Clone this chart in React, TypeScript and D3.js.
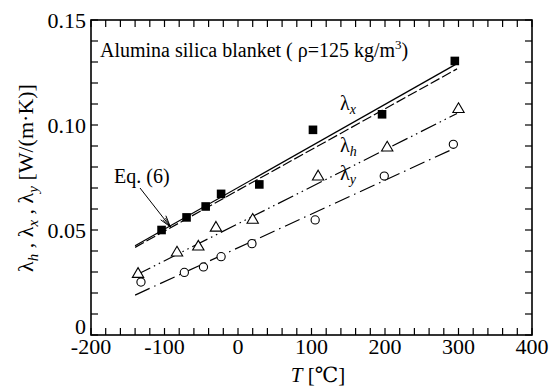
import React from "react";
import * as d3 from "d3";

const W = 558;
const H = 389;

const xTicks = [-200, -100, 0, 100, 200, 300, 400];
const yTicks = [0, 0.05, 0.1, 0.15];
const yTickLabels = ["0", "0.05", "0.10", "0.15"];

const lamXT = [-104, -70, -44, -23, 29, 102, 196, 295];
const lamXV = [0.050, 0.056, 0.0612, 0.0672, 0.0717, 0.0977, 0.1051, 0.1305];

const lamHT = [-136, -83, -54, -30, 20, 109, 203, 300];
const lamHV = [0.0295, 0.0397, 0.0425, 0.0515, 0.0553, 0.0759, 0.0897, 0.108];

const lamYT = [-132, -73, -47, -23, 19, 105, 199, 293];
const lamYV = [0.0252, 0.0298, 0.0324, 0.0373, 0.0435, 0.0548, 0.0757, 0.0908];

const fitXT = [-140, 298];
const fitXV = [0.0425, 0.1292];
const eq6T = [-140, 298];
const eq6V = [0.0422, 0.1272];
const fitHT = [-140, 298];
const fitHV = [0.0283, 0.1055];
const fitYT = [-140, 292];
const fitYV = [0.019, 0.0885];

const FONT = "Liberation Serif, DejaVu Serif, Times New Roman, serif";

export default function App() {
  const m = { l: 91, r: 532, t: 20, b: 335 };
  const x = d3.scaleLinear().domain([-200, 400]).range([m.l, m.r]);
  const y = d3.scaleLinear().domain([0, 0.15]).range([m.b, m.t]);
  const line = d3
    .line<[number, number]>()
    .x((d) => x(d[0]))
    .y((d) => y(d[1]));
  const pts = (ts: number[], vs: number[]) => ts.map((t, i) => [t, vs[i]] as [number, number]);

  const xMinor = d3.range(-200, 401, 20);
  const yMinor = d3.range(0, 0.1501, 0.01);
  const tl = 7;

  const ax1 = 140, ay1 = 188, ax2 = x(-92), ay2 = y(0.0515);
  const ang = Math.atan2(ay2 - ay1, ax2 - ax1);
  const hl = 12, ha = 0.28;
  const h1 = [ax2 - hl * Math.cos(ang - ha), ay2 - hl * Math.sin(ang - ha)];
  const h2 = [ax2 - hl * Math.cos(ang + ha), ay2 - hl * Math.sin(ang + ha)];
  const h3 = [ax2 - hl * 0.85 * Math.cos(ang - ha * 0.55), ay2 - hl * 0.85 * Math.sin(ang - ha * 0.55)];
  const h4 = [ax2 - hl * 0.85 * Math.cos(ang + ha * 0.55), ay2 - hl * 0.85 * Math.sin(ang + ha * 0.55)];

  const tri = (cx: number, cy: number) => {
    const s = 5.4;
    return `M${cx},${cy - s}L${cx + s * 1.05},${cy + s * 0.8}L${cx - s * 1.05},${cy + s * 0.8}Z`;
  };

  const ts = { fontFamily: FONT };

  return (
    <svg width={W} height={H} style={{ position: "absolute", left: 0, top: 0, background: "#fff", fontFamily: FONT }}>
      <rect x={0} y={0} width={W} height={H} fill="#fff" />
      <path d={line(pts(fitXT, fitXV)) || ""} fill="none" stroke="#000" strokeWidth={1.3} />
      <path
        d={line(pts(eq6T, eq6V)) || ""}
        fill="none"
        stroke="#000"
        strokeWidth={1.2}
        strokeDasharray="10 3"
        transform="translate(0,1)"
      />
      <path d={line(pts(fitHT, fitHV)) || ""} fill="none" stroke="#000" strokeWidth={1.2} strokeDasharray="17 4 1.5 4 1.5 4" />
      <path d={line(pts(fitYT, fitYV)) || ""} fill="none" stroke="#000" strokeWidth={1.2} strokeDasharray="16 5 1.5 5" />

      {lamXT.map((t, i) => (
        <rect key={"x" + i} x={x(t) - 4.3} y={y(lamXV[i]) - 4.3} width={8.6} height={8.6} fill="#000" />
      ))}
      {lamHT.map((t, i) => (
        <path key={"h" + i} d={tri(x(t), y(lamHV[i]))} fill="#fff" stroke="#000" strokeWidth={1.1} />
      ))}
      {lamYT.map((t, i) => (
        <circle key={"y" + i} cx={x(t)} cy={y(lamYV[i])} r={4.1} fill="#fff" stroke="#000" strokeWidth={1.1} />
      ))}

      <rect x={m.l} y={m.t} width={m.r - m.l} height={m.b - m.t} fill="none" stroke="#000" strokeWidth={1.6} />
      {xMinor.map((v, i) => (
        <g key={"xt" + i}>
          <line x1={x(v)} x2={x(v)} y1={m.b} y2={m.b - tl} stroke="#000" strokeWidth={1.2} />
          <line x1={x(v)} x2={x(v)} y1={m.t} y2={m.t + tl} stroke="#000" strokeWidth={1.2} />
        </g>
      ))}
      {yMinor.map((v, i) => (
        <g key={"yt" + i}>
          <line x1={m.l} x2={m.l + tl} y1={y(v)} y2={y(v)} stroke="#000" strokeWidth={1.2} />
          <line x1={m.r} x2={m.r - tl} y1={y(v)} y2={y(v)} stroke="#000" strokeWidth={1.2} />
        </g>
      ))}

      {xTicks.map((v) => (
        <text key={"xl" + v} x={x(v)} y={354} textAnchor="middle" fontSize={22} style={ts}>
          {v}
        </text>
      ))}
      {yTicks.map((v, i) => (
        <text key={"yl" + v} x={m.l - 5} y={y(v) + (v === 0 ? -1 : 7.5)} textAnchor="end" fontSize={22} style={ts}>
          {yTickLabels[i]}
        </text>
      ))}

      <text x={318} y={382} textAnchor="middle" fontSize={21} style={ts}>
        <tspan fontStyle="italic">T</tspan>
        <tspan> [℃]</tspan>
      </text>
      <text transform="translate(33,178) rotate(-90)" textAnchor="middle" fontSize={22} style={ts}>
        <tspan>λ</tspan>
        <tspan fontStyle="italic" fontSize={15} dy={5}>h</tspan>
        <tspan dy={-5}> , λ</tspan>
        <tspan fontStyle="italic" fontSize={15} dy={5}>x</tspan>
        <tspan dy={-5}> , λ</tspan>
        <tspan fontStyle="italic" fontSize={15} dy={5}>y</tspan>
        <tspan dy={-5}> [W/(m·K)]</tspan>
      </text>

      <text x={100} y={57} fontSize={20} style={ts}>
        <tspan>Alumina silica blanket ( ρ=125 kg/m</tspan>
        <tspan fontSize={13} dy={-8}>3</tspan>
        <tspan dy={8}>)</tspan>
      </text>
      <text x={340} y={110} fontSize={20} style={ts}>
        <tspan>λ</tspan>
        <tspan fontStyle="italic" fontSize={14} dy={4}>x</tspan>
      </text>
      <text x={340} y={152} fontSize={20} style={ts}>
        <tspan>λ</tspan>
        <tspan fontStyle="italic" fontSize={14} dy={4}>h</tspan>
      </text>
      <text x={340} y={180} fontSize={20} style={ts}>
        <tspan>λ</tspan>
        <tspan fontStyle="italic" fontSize={14} dy={4}>y</tspan>
      </text>
      <text x={114} y={183} fontSize={20} style={ts}>Eq. (6)</text>
      <line x1={ax1} y1={ay1} x2={ax2} y2={ay2} stroke="#000" strokeWidth={1} />
      <path d={`M${h1[0]},${h1[1]}L${ax2},${ay2}L${h2[0]},${h2[1]}`} fill="none" stroke="#000" strokeWidth={1} />
      <path d={`M${h3[0]},${h3[1]}L${ax2},${ay2}L${h4[0]},${h4[1]}`} fill="none" stroke="#000" strokeWidth={0.8} />
    </svg>
  );
}
